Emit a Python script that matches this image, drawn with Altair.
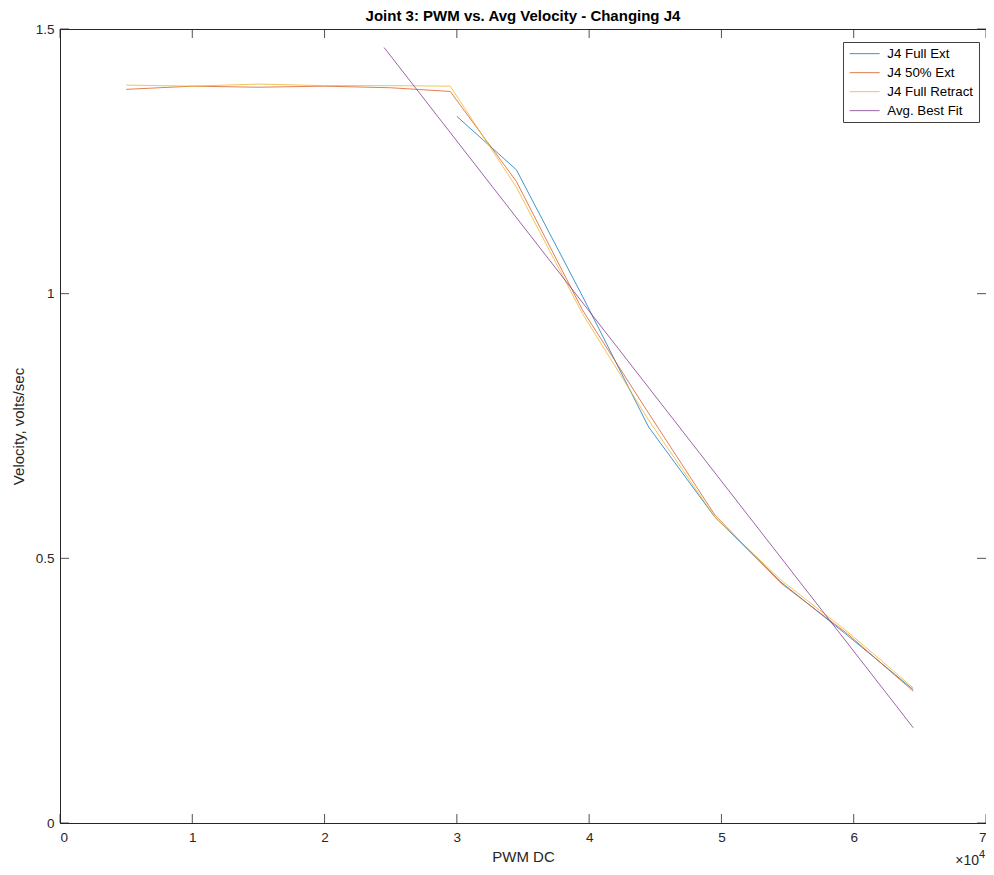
import altair as alt
import pandas as pd

# ---- data ----
series_names = ["J4 Full Ext", "J4 50% Ext", "J4 Full Retract", "Avg. Best Fit"]
series_colors = ["#0072BD", "#D95319", "#EDB120", "#7E2F8E"]

full_ext_pwm = [30000, 34500, 39500, 44500, 49500, 54500, 59500, 64500]
full_ext_vel = [1.335, 1.234, 0.995, 0.748, 0.578, 0.455, 0.355, 0.252]

half_ext_pwm = [5000, 10000, 15000, 20000, 25000, 29500, 34500, 39500, 44500, 49500, 54500, 59500, 64500]
half_ext_vel = [1.386, 1.392, 1.390, 1.392, 1.389, 1.382, 1.212, 0.969, 0.774, 0.582, 0.453, 0.358, 0.249]

retract_pwm = [5000, 10000, 15000, 20000, 25000, 29500, 34500, 39500, 44500, 49500, 54500, 59500, 64500]
retract_vel = [1.394, 1.392, 1.396, 1.393, 1.393, 1.392, 1.201, 0.962, 0.761, 0.578, 0.459, 0.362, 0.255]

fit_pwm = [24500, 64500]
fit_vel = [1.465, 0.180]

x_ticks = [0, 10000, 20000, 30000, 40000, 50000, 60000, 70000]
y_ticks = [0, 0.5, 1, 1.5]

W, H = 926, 794
TICK = 9
AXC = "#262626"
FONT = "Liberation Sans"

rows = []
for name, xs, ys in [
    (series_names[0], full_ext_pwm, full_ext_vel),
    (series_names[1], half_ext_pwm, half_ext_vel),
    (series_names[2], retract_pwm, retract_vel),
    (series_names[3], fit_pwm, fit_vel),
]:
    for x, y in zip(xs, ys):
        rows.append({"PWM": x, "Velocity": y, "Series": name})
df = pd.DataFrame(rows)

xscale = alt.Scale(domain=[0, 70000], nice=False, zero=False)
yscale = alt.Scale(domain=[0, 1.5], nice=False, zero=False)

xaxis = alt.Axis(values=x_ticks, labelExpr="format(datum.value/10000, '~g')", title="PWM DC",
                 ticks=False, grid=False, labelPadding=7, titlePadding=6,
                 labelFont=FONT, labelFontSize=13.5, labelColor=AXC,
                 titleFont=FONT, titleFontSize=15, titleFontWeight="normal", titleColor=AXC,
                 domainColor=AXC)
yaxis = alt.Axis(values=y_ticks, labelExpr="format(datum.value, '~g')", title="Velocity, volts/sec",
                 ticks=False, grid=False, labelPadding=6, titlePadding=9,
                 labelFont=FONT, labelFontSize=13.5, labelColor=AXC,
                 titleFont=FONT, titleFontSize=15, titleFontWeight="normal", titleColor=AXC,
                 domainColor=AXC)

lines = alt.Chart(df).mark_line(strokeWidth=1, opacity=0.75, clip=True).encode(
    x=alt.X("PWM:Q", scale=xscale, axis=xaxis),
    y=alt.Y("Velocity:Q", scale=yscale, axis=yaxis),
    color=alt.Color("Series:N", scale=alt.Scale(domain=series_names, range=series_colors),
                    sort=series_names,
                    legend=alt.Legend(title=None, orient="none", legendX=783, legendY=13,
                                      symbolType="M-1,0H5", symbolSize=100, symbolStrokeWidth=1,
                                      symbolOpacity=0.75,
                                      labelFont=FONT, labelFontSize=13.3, labelColor="#000000",
                                      strokeColor="#404040", fillColor="#ffffff", padding=5,
                                      rowPadding=5, labelOffset=26)),
    detail="Series:N",
)

xt = pd.DataFrame({"PWM": x_ticks})
yt = pd.DataFrame({"Velocity": y_ticks})

xtick_bottom = alt.Chart(xt).mark_rule(color=AXC, strokeWidth=0.8).encode(
    x=alt.X("PWM:Q", scale=xscale), y=alt.value(H), y2=alt.value(H - TICK))
xtick_top = alt.Chart(xt).mark_rule(color=AXC, strokeWidth=0.8).encode(
    x=alt.X("PWM:Q", scale=xscale), y=alt.value(0), y2=alt.value(TICK))
ytick_left = alt.Chart(yt).mark_rule(color=AXC, strokeWidth=0.8).encode(
    y=alt.Y("Velocity:Q", scale=yscale), x=alt.value(0), x2=alt.value(TICK))
ytick_right = alt.Chart(yt).mark_rule(color=AXC, strokeWidth=0.8).encode(
    y=alt.Y("Velocity:Q", scale=yscale), x=alt.value(W), x2=alt.value(W - TICK))

exp_base = alt.Chart(pd.DataFrame({"t": ["×10"]})).mark_text(
    font=FONT, fontSize=14, color=AXC, align="right", baseline="alphabetic").encode(
    text="t:N", x=alt.value(W - 7), y=alt.value(H + 42))
exp_pow = alt.Chart(pd.DataFrame({"t": ["4"]})).mark_text(
    font=FONT, fontSize=11, color=AXC, align="left", baseline="alphabetic").encode(
    text="t:N", x=alt.value(W - 7), y=alt.value(H + 35))

chart = alt.layer(lines, xtick_bottom, xtick_top, ytick_left, ytick_right, exp_base, exp_pow).properties(
    width=W, height=H,
    title=alt.Title("Joint 3: PWM vs. Avg Velocity - Changing J4", font=FONT, fontSize=15,
                    fontWeight="bold", color="#000000", anchor="middle", offset=-2),
    autosize=alt.AutoSizeParams(type="none"),
    padding={"left": 52, "top": 21, "right": 0, "bottom": 44},
).configure_view(stroke=AXC, strokeWidth=1)

chart.save("out.html", embed_options={"renderer": "svg", "actions": False})
